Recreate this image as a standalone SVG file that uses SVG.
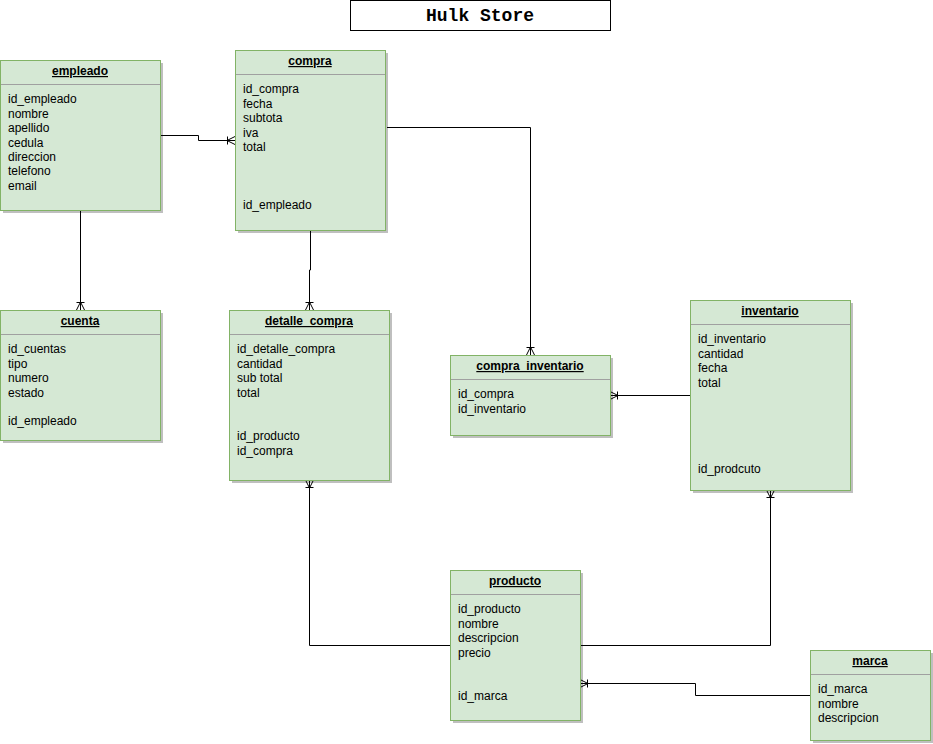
<svg xmlns="http://www.w3.org/2000/svg" width="933" height="744" viewBox="0 0 933 744">
<style>
.box{fill:#d5e8d4;stroke:#82b366;stroke-width:1}
.sh{fill:#000;opacity:0.25}
.div{stroke:#a0a0a0;stroke-width:1}
.t{font-family:"Liberation Sans",Arial,sans-serif;font-size:12px;fill:#000}
.h{font-family:"Liberation Sans",Arial,sans-serif;font-size:12px;font-weight:bold;fill:#000;text-anchor:middle;text-decoration:underline}
.c{fill:none;stroke:#000;stroke-width:1}
</style>
<defs>
<marker id="cf" markerUnits="userSpaceOnUse" markerWidth="12" markerHeight="12" viewBox="0 0 12 12" refX="10" refY="6" orient="auto">
<path d="M10,2 L2,6 L10,10 M2,6 L10,6 M2.5,2 L2.5,10" fill="none" stroke="#000" stroke-width="1"/>
</marker>
</defs>
<rect x="0" y="0" width="933" height="744" fill="#fff"/>
<g id="title">
<rect x="350.5" y="0.5" width="260" height="30" fill="#fff" stroke="#000"/>
<text x="480" y="20.5" font-family="Liberation Mono,Courier New,monospace" font-size="18" font-weight="bold" text-anchor="middle">Hulk Store</text>
</g>
<g id="connectors">
<path class="c" d="M160,135.5 H198.5 V140.5 H235" marker-end="url(#cf)"/>
<path class="c" d="M80.5,210 V310" marker-end="url(#cf)"/>
<path class="c" d="M310.5,230 V270 H309.5 V310" marker-end="url(#cf)"/>
<path class="c" d="M387,127.5 H530.5 V355" marker-end="url(#cf)"/>
<path class="c" d="M690,395.5 H610" marker-end="url(#cf)"/>
<path class="c" d="M450,645.5 H309.5 V480" marker-end="url(#cf)"/>
<path class="c" d="M580,645.5 H770.5 V490" marker-end="url(#cf)"/>
<path class="c" d="M810,695.5 H695.5 V683.5"/>
<path class="c" d="M695.5,683.5 H580" stroke="#808080" marker-end="url(#cf)"/>
</g>
<g id="empleado">
<rect class="sh" x="3" y="63" width="160" height="150"/>
<rect class="box" x="0.5" y="60.5" width="160" height="150"/>
<line class="div" x1="1" y1="84.5" x2="160" y2="84.5"/>
<text class="h" x="80" y="75">empleado</text>
<text class="t" x="8" y="103">id_empleado</text>
<text class="t" x="8" y="117.5">nombre</text>
<text class="t" x="8" y="132">apellido</text>
<text class="t" x="8" y="146.5">cedula</text>
<text class="t" x="8" y="161">direccion</text>
<text class="t" x="8" y="175">telefono</text>
<text class="t" x="8" y="189.5">email</text>
</g>
<g id="compra">
<rect class="sh" x="238" y="53" width="150" height="180"/>
<rect class="box" x="235.5" y="50.5" width="150" height="180"/>
<line class="div" x1="236" y1="74.5" x2="385" y2="74.5"/>
<text class="h" x="310" y="65">compra</text>
<text class="t" x="243" y="93">id_compra</text>
<text class="t" x="243" y="107.5">fecha</text>
<text class="t" x="243" y="122">subtota</text>
<text class="t" x="243" y="136.5">iva</text>
<text class="t" x="243" y="151">total</text>
<text class="t" x="243" y="209">id_empleado</text>
</g>
<g id="cuenta">
<rect class="sh" x="3" y="313" width="160" height="130"/>
<rect class="box" x="0.5" y="310.5" width="160" height="130"/>
<line class="div" x1="1" y1="334.5" x2="160" y2="334.5"/>
<text class="h" x="80" y="325">cuenta</text>
<text class="t" x="8" y="353">id_cuentas</text>
<text class="t" x="8" y="367.5">tipo</text>
<text class="t" x="8" y="382">numero</text>
<text class="t" x="8" y="396.5">estado</text>
<text class="t" x="8" y="425">id_empleado</text>
</g>
<g id="detalle_compra">
<rect class="sh" x="232" y="313" width="160" height="170"/>
<rect class="box" x="229.5" y="310.5" width="160" height="170"/>
<line class="div" x1="230" y1="334.5" x2="389" y2="334.5"/>
<text class="h" x="309" y="325">detalle_compra</text>
<text class="t" x="237" y="353">id_detalle_compra</text>
<text class="t" x="237" y="367.5">cantidad</text>
<text class="t" x="237" y="382">sub total</text>
<text class="t" x="237" y="396.5">total</text>
<text class="t" x="237" y="440">id_producto</text>
<text class="t" x="237" y="454.5">id_compra</text>
</g>
<g id="compra_inventario">
<rect class="sh" x="453" y="358" width="160" height="80"/>
<rect class="box" x="450.5" y="355.5" width="160" height="80"/>
<line class="div" x1="451" y1="379.5" x2="610" y2="379.5"/>
<text class="h" x="530" y="370">compra_inventario</text>
<text class="t" x="458" y="398">id_compra</text>
<text class="t" x="458" y="412.5">id_inventario</text>
</g>
<g id="inventario">
<rect class="sh" x="693" y="303" width="160" height="190"/>
<rect class="box" x="690.5" y="300.5" width="160" height="190"/>
<line class="div" x1="691" y1="324.5" x2="850" y2="324.5"/>
<text class="h" x="770" y="315">inventario</text>
<text class="t" x="698" y="343">id_inventario</text>
<text class="t" x="698" y="357.5">cantidad</text>
<text class="t" x="698" y="372">fecha</text>
<text class="t" x="698" y="386.5">total</text>
<text class="t" x="698" y="472.5">id_prodcuto</text>
</g>
<g id="producto">
<rect class="sh" x="453" y="573" width="130" height="150"/>
<rect class="box" x="450.5" y="570.5" width="130" height="150"/>
<line class="div" x1="451" y1="594.5" x2="580" y2="594.5"/>
<text class="h" x="515" y="585">producto</text>
<text class="t" x="458" y="613">id_producto</text>
<text class="t" x="458" y="627.5">nombre</text>
<text class="t" x="458" y="642">descripcion</text>
<text class="t" x="458" y="656.5">precio</text>
<text class="t" x="458" y="700">id_marca</text>
</g>
<g id="marca">
<rect class="sh" x="813" y="653" width="120" height="90"/>
<rect class="box" x="810.5" y="650.5" width="120" height="90"/>
<line class="div" x1="811" y1="674.5" x2="930" y2="674.5"/>
<text class="h" x="870" y="665">marca</text>
<text class="t" x="818" y="693">id_marca</text>
<text class="t" x="818" y="707.5">nombre</text>
<text class="t" x="818" y="722">descripcion</text>
</g>
</svg>
